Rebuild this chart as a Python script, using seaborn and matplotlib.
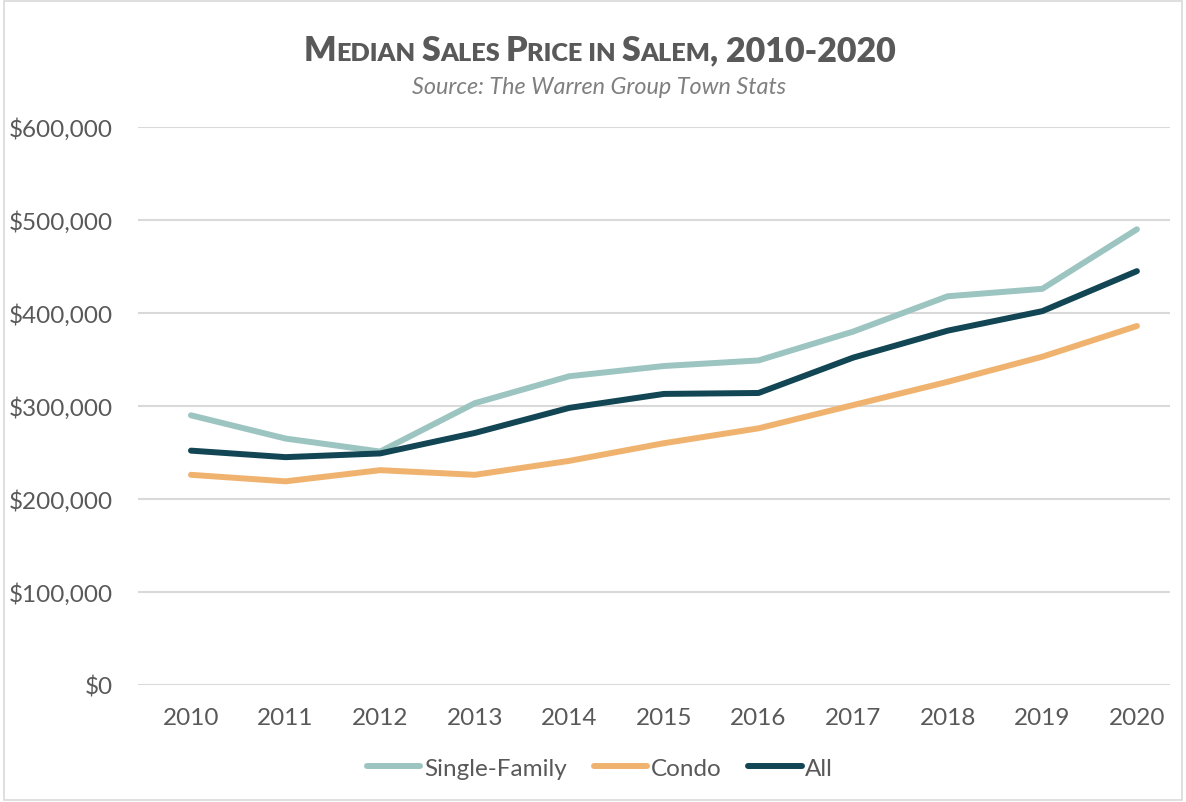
import numpy as np
import pandas as pd
import matplotlib
matplotlib.use("Agg")
import matplotlib.pyplot as plt
import seaborn as sns
from matplotlib.ticker import FuncFormatter
from matplotlib.patches import Rectangle

years = [2010, 2011, 2012, 2013, 2014, 2015, 2016, 2017, 2018, 2019, 2020]
single_family = [290000, 265000, 251000, 303000, 332000, 343000, 349000, 380000, 418000, 426000, 490000]
condo = [226000, 219000, 231000, 226000, 241000, 260000, 276000, 301000, 326000, 353000, 386000]
all_homes = [252000, 245000, 249000, 271000, 298000, 313000, 314000, 352000, 381000, 402000, 445000]
series_names = ["Single-Family", "Condo", "All"]
y_ticks = [0, 100000, 200000, 300000, 400000, 500000, 600000]

title = "Median Sales Price in Salem, 2010-2020"
subtitle = "Source: The Warren Group Town Stats"

# long-form table for seaborn
df = pd.DataFrame({
    "pos": list(range(len(years))) * 3,
    "price": single_family + condo + all_homes,
    "type": [s for s in series_names for _ in years],
})

sns.set_style("white")
plt.rcParams["font.family"] = ["Lato", "DejaVu Sans"]

text_col = "#595959"
grid_col = "#d9d9d9"
palette = {"Single-Family": "#9cc5c1", "Condo": "#f0b36f", "All": "#124654"}
fs = 17.5

fig = plt.figure(figsize=(11.86, 8.03), dpi=100)
ax = fig.add_axes([138 / 1186, 1 - 686 / 803, (1170 - 138) / 1186, (686 - 128) / 803])

sns.lineplot(data=df, x="pos", y="price", hue="type", hue_order=series_names,
             palette=palette, linewidth=4.3, ax=ax, solid_capstyle="round")

ax.set_xlim(-0.56, 10.35)
ax.set_ylim(0, 600000)
ax.set_xticks(range(len(years)))
ax.set_xticklabels([str(y) for y in years])
ax.set_yticks(y_ticks)
ax.yaxis.set_major_formatter(FuncFormatter(lambda v, p: "${:,.0f}".format(v)))
ax.set_xlabel("")
ax.set_ylabel("")
ax.grid(axis="y", color=grid_col, linewidth=1.5)
ax.set_axisbelow(True)
for s in ["top", "right", "left", "bottom"]:
    ax.spines[s].set_visible(False)
ax.tick_params(axis="both", length=0, labelsize=fs, labelcolor=text_col)
ax.tick_params(axis="x", pad=16)
ax.tick_params(axis="y", pad=18)

handles, labels = ax.get_legend_handles_labels()
for h in handles:
    h.set_solid_capstyle("round")
ax.legend(handles, labels, loc="center", bbox_to_anchor=(600 / 1186, 1 - 769 / 803),
          bbox_transform=fig.transFigure, ncol=3, frameon=False,
          fontsize=fs, labelcolor=text_col, handlelength=2.2, handletextpad=0.15,
          columnspacing=1.1)

# title in small caps, built from pieces
renderer = fig.canvas.get_renderer()
big, small = 24.5, 18.2
weight = "heavy"
runs = []
for ch in title:
    size = small if ch.islower() else big
    if ch == " ":
        size = runs[-1][1] if runs else big
    if runs and runs[-1][1] == size:
        runs[-1][0] += ch.upper()
    else:
        runs.append([ch.upper(), size])


def text_width(s, size):
    t = fig.text(0, 0, s, fontsize=size, fontweight=weight)
    w = t.get_window_extent(renderer).width
    t.remove()
    return w


space_w = {sz: text_width("X X", sz) - text_width("XX", sz) for sz in (big, small)}
widths = []
for s, sz in runs:
    core = s.strip(" ")
    w = text_width(core, sz) if core else 0
    w += space_w[sz] * (len(s) - len(s.lstrip(" ")) + len(s) - len(s.rstrip(" ")) if core else len(s))
    widths.append(w)
total = sum(widths)
x = 600 - total / 2
base_y = 1 - 61 / 803
for (s, sz), w in zip(runs, widths):
    lead = len(s) - len(s.lstrip(" "))
    fig.text((x + lead * space_w[sz]) / 1186, base_y, s.strip(" "), fontsize=sz,
             fontweight=weight, color=text_col, va="baseline", ha="left")
    x += w

fig.text(599 / 1186, 1 - 88 / 803, subtitle, fontsize=16.8, fontstyle="italic",
         color="#7f7f7f", ha="center", va="center")

fig.patches.append(Rectangle((0.003, 0.003), 0.994, 0.994, transform=fig.transFigure,
                             fill=False, edgecolor=grid_col, linewidth=1.2))

fig.savefig("out.png", dpi=100, facecolor="white")
